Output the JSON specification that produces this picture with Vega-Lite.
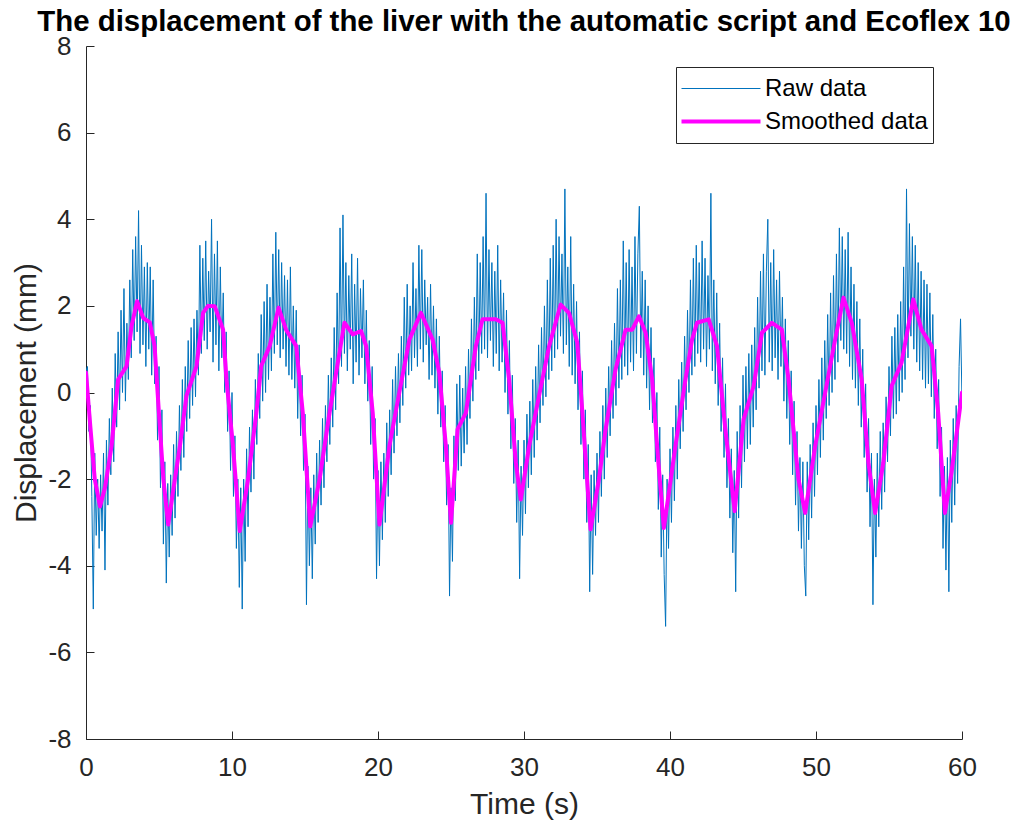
{
"$schema":"https://vega.github.io/schema/vega-lite/v6.json",
"autosize":{"type":"none"},
"width":876,"height":693,
"padding":{"left":86,"top":46,"right":65,"bottom":90},
"background":"white",
"title":{"text":"The displacement of the liver with the automatic script and Ecoflex 10","font":"Liberation Sans","fontSize":29.4,"fontWeight":"bold","color":"black","anchor":"middle","frame":"group","offset":-4},
"datasets":{
"raw":[
{"t":0.0,"v":0.5},{"t":0.1,"v":0.6},{"t":0.2,"v":-0.9},{"t":0.3,"v":-0.3},{"t":0.4,"v":-2.4},{"t":0.5,"v":-5.0},{"t":0.6,"v":-1.4},{"t":0.7,"v":-3.3},{"t":0.8,"v":-2.0},{"t":0.9,"v":-3.6},
{"t":1.0,"v":-1.9},{"t":1.1,"v":-3.2},{"t":1.2,"v":-1.4},{"t":1.3,"v":-4.1},{"t":1.4,"v":-1.1},{"t":1.5,"v":-2.6},{"t":1.6,"v":-0.6},{"t":1.7,"v":-1.9},{"t":1.8,"v":0.1},{"t":1.9,"v":-1.6},
{"t":2.0,"v":0.9},{"t":2.1,"v":-0.8},{"t":2.2,"v":1.4},{"t":2.3,"v":-0.4},{"t":2.4,"v":1.9},{"t":2.5,"v":0.0},{"t":2.6,"v":2.4},{"t":2.7,"v":-0.2},{"t":2.8,"v":1.6},{"t":2.9,"v":0.3},
{"t":3.0,"v":2.6},{"t":3.1,"v":0.8},{"t":3.2,"v":3.3},{"t":3.3,"v":1.2},{"t":3.4,"v":3.6},{"t":3.5,"v":1.4},{"t":3.6,"v":4.2},{"t":3.7,"v":0.9},{"t":3.8,"v":3.4},{"t":3.9,"v":1.1},
{"t":4.0,"v":2.9},{"t":4.1,"v":0.6},{"t":4.2,"v":3.0},{"t":4.3,"v":1.0},{"t":4.4,"v":2.9},{"t":4.5,"v":0.4},{"t":4.6,"v":2.6},{"t":4.7,"v":0.2},{"t":4.8,"v":1.3},{"t":4.9,"v":-1.1},
{"t":5.0,"v":0.6},{"t":5.1,"v":-2.2},{"t":5.2,"v":-0.4},{"t":5.3,"v":-3.5},{"t":5.4,"v":-1.6},{"t":5.5,"v":-4.4},{"t":5.6,"v":-2.1},{"t":5.7,"v":-3.8},{"t":5.8,"v":-1.9},{"t":5.9,"v":-3.3},
{"t":6.0,"v":-1.2},{"t":6.1,"v":-2.9},{"t":6.2,"v":-0.9},{"t":6.3,"v":-2.4},{"t":6.4,"v":-0.3},{"t":6.5,"v":-1.8},{"t":6.6,"v":0.3},{"t":6.7,"v":-1.5},{"t":6.8,"v":0.6},{"t":6.9,"v":-0.9},
{"t":7.0,"v":1.2},{"t":7.1,"v":-0.6},{"t":7.2,"v":1.5},{"t":7.3,"v":-0.3},{"t":7.4,"v":1.7},{"t":7.5,"v":-0.1},{"t":7.6,"v":1.9},{"t":7.7,"v":0.4},{"t":7.8,"v":3.4},{"t":7.9,"v":0.9},
{"t":8.0,"v":3.1},{"t":8.1,"v":1.2},{"t":8.2,"v":3.5},{"t":8.3,"v":1.0},{"t":8.4,"v":2.8},{"t":8.5,"v":1.4},{"t":8.6,"v":4.0},{"t":8.7,"v":0.7},{"t":8.8,"v":3.2},{"t":8.9,"v":1.1},
{"t":9.0,"v":3.5},{"t":9.1,"v":0.5},{"t":9.2,"v":2.9},{"t":9.3,"v":0.8},{"t":9.4,"v":2.3},{"t":9.5,"v":0.0},{"t":9.6,"v":1.4},{"t":9.7,"v":-0.9},{"t":9.8,"v":0.5},{"t":9.9,"v":-1.8},
{"t":10.0,"v":0.0},{"t":10.1,"v":-2.4},{"t":10.2,"v":-1.0},{"t":10.3,"v":-3.6},{"t":10.4,"v":-2.0},{"t":10.5,"v":-4.5},{"t":10.6,"v":-2.2},{"t":10.7,"v":-5.0},{"t":10.8,"v":-2.0},{"t":10.9,"v":-3.9},
{"t":11.0,"v":-1.3},{"t":11.1,"v":-3.1},{"t":11.2,"v":-0.8},{"t":11.3,"v":-2.3},{"t":11.4,"v":-0.4},{"t":11.5,"v":-2.0},{"t":11.6,"v":0.3},{"t":11.7,"v":-1.2},{"t":11.8,"v":0.9},{"t":11.9,"v":-0.6},
{"t":12.0,"v":1.8},{"t":12.1,"v":-0.2},{"t":12.2,"v":2.1},{"t":12.3,"v":0.0},{"t":12.4,"v":2.5},{"t":12.5,"v":0.3},{"t":12.6,"v":2.2},{"t":12.7,"v":0.5},{"t":12.8,"v":3.2},{"t":12.9,"v":0.9},
{"t":13.0,"v":3.7},{"t":13.1,"v":1.1},{"t":13.2,"v":3.3},{"t":13.3,"v":0.8},{"t":13.4,"v":3.0},{"t":13.5,"v":1.0},{"t":13.6,"v":2.7},{"t":13.7,"v":0.6},{"t":13.8,"v":2.6},{"t":13.9,"v":0.4},
{"t":14.0,"v":2.9},{"t":14.1,"v":0.3},{"t":14.2,"v":2.0},{"t":14.3,"v":0.1},{"t":14.4,"v":1.9},{"t":14.5,"v":-0.6},{"t":14.6,"v":1.1},{"t":14.7,"v":-1.0},{"t":14.8,"v":0.4},{"t":14.9,"v":-1.8},
{"t":15.0,"v":-0.5},{"t":15.1,"v":-4.9},{"t":15.2,"v":-1.7},{"t":15.3,"v":-4.0},{"t":15.4,"v":-2.2},{"t":15.5,"v":-4.3},{"t":15.6,"v":-1.9},{"t":15.7,"v":-3.5},{"t":15.8,"v":-1.4},{"t":15.9,"v":-3.0},
{"t":16.0,"v":-1.1},{"t":16.1,"v":-2.6},{"t":16.2,"v":-0.6},{"t":16.3,"v":-2.2},{"t":16.4,"v":-0.3},{"t":16.5,"v":-1.6},{"t":16.6,"v":0.4},{"t":16.7,"v":-1.2},{"t":16.8,"v":0.8},{"t":16.9,"v":-0.8},
{"t":17.0,"v":1.5},{"t":17.1,"v":-0.4},{"t":17.2,"v":2.3},{"t":17.3,"v":0.2},{"t":17.4,"v":3.8},{"t":17.5,"v":0.6},{"t":17.6,"v":4.1},{"t":17.7,"v":0.9},{"t":17.8,"v":3.0},{"t":17.9,"v":0.5},
{"t":18.0,"v":2.7},{"t":18.1,"v":1.0},{"t":18.2,"v":3.2},{"t":18.3,"v":0.2},{"t":18.4,"v":2.5},{"t":18.5,"v":0.7},{"t":18.6,"v":3.1},{"t":18.7,"v":0.4},{"t":18.8,"v":2.4},{"t":18.9,"v":0.8},
{"t":19.0,"v":2.6},{"t":19.1,"v":0.2},{"t":19.2,"v":1.9},{"t":19.3,"v":-0.2},{"t":19.4,"v":1.2},{"t":19.5,"v":-1.2},{"t":19.6,"v":0.6},{"t":19.7,"v":-2.0},{"t":19.8,"v":-0.6},{"t":19.9,"v":-4.3},
{"t":20.0,"v":-1.8},{"t":20.1,"v":-4.0},{"t":20.2,"v":-1.6},{"t":20.3,"v":-3.4},{"t":20.4,"v":-1.4},{"t":20.5,"v":-3.0},{"t":20.6,"v":-0.7},{"t":20.7,"v":-2.4},{"t":20.8,"v":-0.4},{"t":20.9,"v":-1.9},
{"t":21.0,"v":0.3},{"t":21.1,"v":-1.4},{"t":21.2,"v":0.6},{"t":21.3,"v":-1.0},{"t":21.4,"v":0.9},{"t":21.5,"v":-0.7},{"t":21.6,"v":1.3},{"t":21.7,"v":-0.3},{"t":21.8,"v":2.2},{"t":21.9,"v":0.1},
{"t":22.0,"v":2.5},{"t":22.1,"v":0.4},{"t":22.2,"v":2.0},{"t":22.3,"v":0.5},{"t":22.4,"v":3.0},{"t":22.5,"v":0.8},{"t":22.6,"v":2.4},{"t":22.7,"v":0.6},{"t":22.8,"v":3.4},{"t":22.9,"v":1.0},
{"t":23.0,"v":3.3},{"t":23.1,"v":0.7},{"t":23.2,"v":2.6},{"t":23.3,"v":1.1},{"t":23.4,"v":2.2},{"t":23.5,"v":0.3},{"t":23.6,"v":2.5},{"t":23.7,"v":0.4},{"t":23.8,"v":2.0},{"t":23.9,"v":0.1},
{"t":24.0,"v":1.7},{"t":24.1,"v":-0.5},{"t":24.2,"v":1.3},{"t":24.3,"v":-0.8},{"t":24.4,"v":0.5},{"t":24.5,"v":-1.6},{"t":24.6,"v":-0.3},{"t":24.7,"v":-2.6},{"t":24.8,"v":-1.2},{"t":24.9,"v":-4.7},
{"t":25.0,"v":-2.2},{"t":25.1,"v":-3.9},{"t":25.2,"v":-1.0},{"t":25.3,"v":-2.5},{"t":25.4,"v":0.2},{"t":25.5,"v":-1.8},{"t":25.6,"v":0.4},{"t":25.7,"v":-1.7},{"t":25.8,"v":0.1},{"t":25.9,"v":-1.4},
{"t":26.0,"v":0.6},{"t":26.1,"v":-1.2},{"t":26.2,"v":1.0},{"t":26.3,"v":-0.6},{"t":26.4,"v":1.7},{"t":26.5,"v":-0.2},{"t":26.6,"v":2.2},{"t":26.7,"v":0.3},{"t":26.8,"v":3.2},{"t":26.9,"v":0.5},
{"t":27.0,"v":3.0},{"t":27.1,"v":0.9},{"t":27.2,"v":3.6},{"t":27.3,"v":1.0},{"t":27.4,"v":4.6},{"t":27.5,"v":0.8},{"t":27.6,"v":3.3},{"t":27.7,"v":1.2},{"t":27.8,"v":3.0},{"t":27.9,"v":0.6},
{"t":28.0,"v":2.8},{"t":28.1,"v":0.9},{"t":28.2,"v":3.4},{"t":28.3,"v":0.5},{"t":28.4,"v":2.6},{"t":28.5,"v":0.7},{"t":28.6,"v":2.3},{"t":28.7,"v":0.0},{"t":28.8,"v":1.9},{"t":28.9,"v":-0.5},
{"t":29.0,"v":1.2},{"t":29.1,"v":-1.3},{"t":29.2,"v":0.4},{"t":29.3,"v":-2.1},{"t":29.4,"v":-0.6},{"t":29.5,"v":-3.0},{"t":29.6,"v":-1.1},{"t":29.7,"v":-4.3},{"t":29.8,"v":-1.7},{"t":29.9,"v":-3.3},
{"t":30.0,"v":-1.1},{"t":30.1,"v":-2.8},{"t":30.2,"v":-0.5},{"t":30.3,"v":-2.2},{"t":30.4,"v":-0.2},{"t":30.5,"v":-1.9},{"t":30.6,"v":0.3},{"t":30.7,"v":-1.5},{"t":30.8,"v":0.6},{"t":30.9,"v":-1.1},
{"t":31.0,"v":1.1},{"t":31.1,"v":-0.7},{"t":31.2,"v":1.5},{"t":31.3,"v":-0.3},{"t":31.4,"v":2.0},{"t":31.5,"v":-0.1},{"t":31.6,"v":2.6},{"t":31.7,"v":0.3},{"t":31.8,"v":3.1},{"t":31.9,"v":0.5},
{"t":32.0,"v":3.4},{"t":32.1,"v":0.8},{"t":32.2,"v":4.0},{"t":32.3,"v":1.0},{"t":32.4,"v":3.6},{"t":32.5,"v":1.3},{"t":32.6,"v":3.2},{"t":32.7,"v":0.9},{"t":32.8,"v":4.7},{"t":32.9,"v":1.1},
{"t":33.0,"v":2.9},{"t":33.1,"v":0.6},{"t":33.2,"v":3.6},{"t":33.3,"v":0.4},{"t":33.4,"v":2.5},{"t":33.5,"v":0.2},{"t":33.6,"v":2.1},{"t":33.7,"v":-0.4},{"t":33.8,"v":1.4},{"t":33.9,"v":-1.2},
{"t":34.0,"v":0.5},{"t":34.1,"v":-2.0},{"t":34.2,"v":-0.4},{"t":34.3,"v":-3.0},{"t":34.4,"v":-1.2},{"t":34.5,"v":-4.6},{"t":34.6,"v":-1.9},{"t":34.7,"v":-4.2},{"t":34.8,"v":-1.8},{"t":34.9,"v":-3.3},
{"t":35.0,"v":-1.4},{"t":35.1,"v":-3.0},{"t":35.2,"v":-0.9},{"t":35.3,"v":-2.4},{"t":35.4,"v":-0.3},{"t":35.5,"v":-2.0},{"t":35.6,"v":0.1},{"t":35.7,"v":-1.5},{"t":35.8,"v":0.6},{"t":35.9,"v":-1.0},
{"t":36.0,"v":1.2},{"t":36.1,"v":-0.6},{"t":36.2,"v":1.6},{"t":36.3,"v":-0.3},{"t":36.4,"v":2.4},{"t":36.5,"v":0.1},{"t":36.6,"v":2.6},{"t":36.7,"v":0.3},{"t":36.8,"v":3.5},{"t":36.9,"v":0.6},
{"t":37.0,"v":3.0},{"t":37.1,"v":0.4},{"t":37.2,"v":3.3},{"t":37.3,"v":0.7},{"t":37.4,"v":2.9},{"t":37.5,"v":0.5},{"t":37.6,"v":3.6},{"t":37.7,"v":0.9},{"t":37.8,"v":3.2},{"t":37.9,"v":4.3},
{"t":38.0,"v":0.8},{"t":38.1,"v":2.8},{"t":38.2,"v":0.4},{"t":38.3,"v":2.6},{"t":38.4,"v":0.1},{"t":38.5,"v":2.0},{"t":38.6,"v":-0.4},{"t":38.7,"v":1.5},{"t":38.8,"v":-0.7},{"t":38.9,"v":0.8},
{"t":39.0,"v":-1.6},{"t":39.1,"v":0.0},{"t":39.2,"v":-2.7},{"t":39.3,"v":-0.8},{"t":39.4,"v":-3.8},{"t":39.5,"v":-1.9},{"t":39.6,"v":-4.2},{"t":39.7,"v":-5.4},{"t":39.8,"v":-2.0},{"t":39.9,"v":-3.6},
{"t":40.0,"v":-1.3},{"t":40.1,"v":-3.0},{"t":40.2,"v":-0.8},{"t":40.3,"v":-2.5},{"t":40.4,"v":-0.3},{"t":40.5,"v":-2.0},{"t":40.6,"v":0.3},{"t":40.7,"v":-1.3},{"t":40.8,"v":0.7},{"t":40.9,"v":-0.9},
{"t":41.0,"v":1.3},{"t":41.1,"v":-0.4},{"t":41.2,"v":1.9},{"t":41.3,"v":0.0},{"t":41.4,"v":2.6},{"t":41.5,"v":0.4},{"t":41.6,"v":3.1},{"t":41.7,"v":0.6},{"t":41.8,"v":3.4},{"t":41.9,"v":0.9},
{"t":42.0,"v":3.0},{"t":42.1,"v":0.7},{"t":42.2,"v":3.5},{"t":42.3,"v":1.0},{"t":42.4,"v":3.1},{"t":42.5,"v":0.6},{"t":42.6,"v":2.7},{"t":42.7,"v":1.0},{"t":42.8,"v":4.6},{"t":42.9,"v":0.5},
{"t":43.0,"v":2.6},{"t":43.1,"v":0.2},{"t":43.2,"v":2.3},{"t":43.3,"v":-0.3},{"t":43.4,"v":1.6},{"t":43.5,"v":-0.9},{"t":43.6,"v":0.8},{"t":43.7,"v":-1.5},{"t":43.8,"v":0.2},{"t":43.9,"v":-2.2},
{"t":44.0,"v":-0.6},{"t":44.1,"v":-2.9},{"t":44.2,"v":-1.3},{"t":44.3,"v":-3.7},{"t":44.4,"v":-1.8},{"t":44.5,"v":-4.6},{"t":44.6,"v":-0.9},{"t":44.7,"v":-2.9},{"t":44.8,"v":-0.3},{"t":44.9,"v":-2.2},
{"t":45.0,"v":0.4},{"t":45.1,"v":-1.6},{"t":45.2,"v":0.6},{"t":45.3,"v":-1.3},{"t":45.4,"v":0.9},{"t":45.5,"v":-1.2},{"t":45.6,"v":1.1},{"t":45.7,"v":-0.8},{"t":45.8,"v":1.5},{"t":45.9,"v":-0.4},
{"t":46.0,"v":2.2},{"t":46.1,"v":0.1},{"t":46.2,"v":2.8},{"t":46.3,"v":0.5},{"t":46.4,"v":3.2},{"t":46.5,"v":0.4},{"t":46.6,"v":2.8},{"t":46.7,"v":4.0},{"t":46.8,"v":0.7},{"t":46.9,"v":3.0},
{"t":47.0,"v":0.5},{"t":47.1,"v":3.3},{"t":47.2,"v":0.8},{"t":47.3,"v":2.6},{"t":47.4,"v":0.3},{"t":47.5,"v":2.8},{"t":47.6,"v":0.6},{"t":47.7,"v":2.2},{"t":47.8,"v":-0.2},{"t":47.9,"v":1.7},
{"t":48.0,"v":-0.6},{"t":48.1,"v":1.2},{"t":48.2,"v":-1.2},{"t":48.3,"v":0.5},{"t":48.4,"v":-1.9},{"t":48.5,"v":-0.2},{"t":48.6,"v":-2.6},{"t":48.7,"v":-0.9},{"t":48.8,"v":-3.2},{"t":48.9,"v":-1.5},
{"t":49.0,"v":-3.6},{"t":49.1,"v":-1.6},{"t":49.2,"v":-4.0},{"t":49.3,"v":-4.7},{"t":49.4,"v":-1.6},{"t":49.5,"v":-3.4},{"t":49.6,"v":-1.2},{"t":49.7,"v":-2.9},{"t":49.8,"v":-0.7},{"t":49.9,"v":-2.4},
{"t":50.0,"v":-0.3},{"t":50.1,"v":-1.9},{"t":50.2,"v":0.3},{"t":50.3,"v":-1.5},{"t":50.4,"v":0.8},{"t":50.5,"v":-1.1},{"t":50.6,"v":1.2},{"t":50.7,"v":-0.6},{"t":50.8,"v":1.8},{"t":50.9,"v":-0.3},
{"t":51.0,"v":2.3},{"t":51.1,"v":0.0},{"t":51.2,"v":2.7},{"t":51.3,"v":0.3},{"t":51.4,"v":3.2},{"t":51.5,"v":0.7},{"t":51.6,"v":3.8},{"t":51.7,"v":1.2},{"t":51.8,"v":3.6},{"t":51.9,"v":1.0},
{"t":52.0,"v":3.3},{"t":52.1,"v":0.9},{"t":52.2,"v":3.7},{"t":52.3,"v":0.6},{"t":52.4,"v":2.9},{"t":52.5,"v":0.3},{"t":52.6,"v":2.5},{"t":52.7,"v":0.1},{"t":52.8,"v":2.1},{"t":52.9,"v":-0.3},
{"t":53.0,"v":1.7},{"t":53.1,"v":-0.8},{"t":53.2,"v":1.0},{"t":53.3,"v":-1.5},{"t":53.4,"v":0.2},{"t":53.5,"v":-2.3},{"t":53.6,"v":-0.6},{"t":53.7,"v":-3.1},{"t":53.8,"v":-1.4},{"t":53.9,"v":-4.9},
{"t":54.0,"v":-2.0},{"t":54.1,"v":-3.8},{"t":54.2,"v":-1.4},{"t":54.3,"v":-3.1},{"t":54.4,"v":-0.9},{"t":54.5,"v":-2.7},{"t":54.6,"v":-0.7},{"t":54.7,"v":-2.3},{"t":54.8,"v":-0.1},{"t":54.9,"v":-1.6},
{"t":55.0,"v":0.6},{"t":55.1,"v":-1.0},{"t":55.2,"v":1.3},{"t":55.3,"v":-0.6},{"t":55.4,"v":1.5},{"t":55.5,"v":-0.5},{"t":55.6,"v":1.8},{"t":55.7,"v":-0.2},{"t":55.8,"v":2.1},{"t":55.9,"v":0.0},
{"t":56.0,"v":2.9},{"t":56.1,"v":0.3},{"t":56.2,"v":4.7},{"t":56.3,"v":0.8},{"t":56.4,"v":3.9},{"t":56.5,"v":1.3},{"t":56.6,"v":3.6},{"t":56.7,"v":1.0},{"t":56.8,"v":3.4},{"t":56.9,"v":0.7},
{"t":57.0,"v":3.0},{"t":57.1,"v":0.5},{"t":57.2,"v":2.8},{"t":57.3,"v":0.3},{"t":57.4,"v":2.6},{"t":57.5,"v":0.1},{"t":57.6,"v":2.5},{"t":57.7,"v":0.2},{"t":57.8,"v":2.3},{"t":57.9,"v":-0.1},
{"t":58.0,"v":1.8},{"t":58.1,"v":-0.6},{"t":58.2,"v":1.0},{"t":58.3,"v":-1.3},{"t":58.4,"v":0.3},{"t":58.5,"v":-2.4},{"t":58.6,"v":-0.8},{"t":58.7,"v":-3.6},{"t":58.8,"v":-1.7},{"t":58.9,"v":-4.1},
{"t":59.0,"v":-1.5},{"t":59.1,"v":-4.6},{"t":59.2,"v":-1.1},{"t":59.3,"v":-3.0},{"t":59.4,"v":-0.6},{"t":59.5,"v":-2.6},{"t":59.6,"v":-0.3},{"t":59.7,"v":-2.1},{"t":59.8,"v":0.6},{"t":59.9,"v":1.7},
{"t":60.0,"v":-0.2}
],
"smooth":[
{"t":0,"v":0.46},{"t":0.3,"v":-0.8},{"t":0.6,"v":-2.0},{"t":0.96,"v":-2.63},{"t":1.3,"v":-2.2},{"t":1.75,"v":-1.24},{"t":2.2,"v":0.3},{"t":2.78,"v":0.61},{"t":3.12,"v":1.53},{"t":3.5,"v":2.11},{"t":3.92,"v":1.72},{"t":4.37,"v":1.62},{"t":4.7,"v":1.07},{"t":5.0,"v":-0.5},{"t":5.3,"v":-2.0},{"t":5.63,"v":-3.05},
{"t":6.0,"v":-2.2},{"t":6.43,"v":-1.24},{"t":6.88,"v":-0.08},{"t":7.57,"v":0.61},{"t":8.02,"v":1.84},{"t":8.36,"v":2.0},{"t":8.82,"v":1.99},{"t":9.39,"v":1.45},{"t":9.62,"v":0.3},{"t":10.07,"v":-1.24},{"t":10.53,"v":-3.2},
{"t":11.1,"v":-2.0},{"t":11.67,"v":-0.47},{"t":12.0,"v":0.61},{"t":12.58,"v":1.07},{"t":13.19,"v":1.96},{"t":13.7,"v":1.45},{"t":14.4,"v":1.07},{"t":14.85,"v":-0.47},{"t":15.36,"v":-3.09},
{"t":16.0,"v":-2.0},{"t":16.68,"v":-0.47},{"t":17.13,"v":0.45},{"t":17.7,"v":1.61},{"t":18.27,"v":1.34},{"t":18.84,"v":1.42},{"t":19.19,"v":1.07},{"t":19.64,"v":-0.47},{"t":20.1,"v":-3.05},
{"t":20.78,"v":-1.24},{"t":21.46,"v":0.0},{"t":22.15,"v":1.22},{"t":22.94,"v":1.84},{"t":23.74,"v":1.22},{"t":24.2,"v":0.45},{"t":24.65,"v":-1.24},{"t":25.0,"v":-3.01},
{"t":25.45,"v":-0.85},{"t":26.02,"v":-0.47},{"t":26.7,"v":1.07},{"t":27.16,"v":1.69},{"t":28.07,"v":1.69},{"t":28.53,"v":1.61},{"t":28.98,"v":0.3},{"t":29.44,"v":-1.62},{"t":29.78,"v":-2.47},
{"t":30.35,"v":-1.24},{"t":31.03,"v":-0.08},{"t":31.72,"v":1.07},{"t":32.51,"v":2.03},{"t":33.08,"v":1.84},{"t":33.65,"v":1.15},{"t":34.0,"v":-0.47},{"t":34.56,"v":-3.16},
{"t":35.13,"v":-2.0},{"t":35.59,"v":-0.85},{"t":36.27,"v":0.53},{"t":36.96,"v":1.45},{"t":37.41,"v":1.45},{"t":37.87,"v":1.76},{"t":38.33,"v":1.38},{"t":38.78,"v":0.3},{"t":39.2,"v":-1.6},{"t":39.58,"v":-3.13},
{"t":40.37,"v":-1.24},{"t":41.06,"v":0.3},{"t":41.51,"v":1.22},{"t":41.85,"v":1.61},{"t":42.65,"v":1.69},{"t":43.22,"v":1.07},{"t":43.79,"v":-0.85},{"t":44.43,"v":-2.74},
{"t":45.04,"v":-0.62},{"t":45.73,"v":0.15},{"t":46.3,"v":1.38},{"t":46.98,"v":1.61},{"t":47.66,"v":1.45},{"t":48.12,"v":0.3},{"t":48.8,"v":-2.0},{"t":49.26,"v":-2.78},
{"t":49.94,"v":-1.24},{"t":50.63,"v":0.0},{"t":51.31,"v":1.22},{"t":51.88,"v":2.19},{"t":52.45,"v":1.61},{"t":53.13,"v":0.3},{"t":53.59,"v":-1.62},{"t":54.05,"v":-2.78},
{"t":54.61,"v":-1.62},{"t":55.18,"v":0.15},{"t":55.86,"v":0.69},{"t":56.66,"v":2.15},{"t":57.23,"v":1.45},{"t":57.92,"v":1.07},{"t":58.37,"v":-0.47},{"t":58.83,"v":-2.78},
{"t":59.28,"v":-1.85},{"t":60.0,"v":0.0}
]
},
"layer":[
{"data":{"name":"raw"},
 "mark":{"type":"line","strokeWidth":1,"clip":true},
 "encoding":{
  "x":{"field":"t","type":"quantitative","scale":{"domain":[0,60],"nice":false,"zero":false},"axis":{"values":[0,10,20,30,40,50,60],"title":"Time (s)","labelExpr":"'' + datum.value"}},
  "y":{"field":"v","type":"quantitative","scale":{"domain":[-8,8],"nice":false,"zero":false},"axis":{"values":[-8,-6,-4,-2,0,2,4,6,8],"title":"Displacement (mm)","labelExpr":"'' + datum.value"}},
  "color":{"datum":"Raw data","type":"nominal","scale":{"domain":["Raw data","Smoothed data"],"range":["#0072BD","#FF00FF"]},
   "legend":{"orient":"none","legendX":590,"legendY":21,"title":null,
     "encode":{"symbols":{"update":{"strokeWidth":{"signal":"(datum.value === 'Smoothed data' ? 4 : 1)"}}}}}}
 }},
{"data":{"name":"smooth"},
 "mark":{"type":"line","strokeWidth":4,"strokeJoin":"round","strokeCap":"round","clip":true},
 "encoding":{
  "x":{"field":"t","type":"quantitative"},
  "y":{"field":"v","type":"quantitative"},
  "color":{"datum":"Smoothed data","type":"nominal"}
 }}
],
"config":{
 "view":{"stroke":null},
 "axis":{"domainColor":"#262626","tickColor":"#262626","labelColor":"#262626","titleColor":"#262626","labelFont":"Liberation Sans","titleFont":"Liberation Sans","labelFontSize":26,"titleFontSize":30,"titleFontWeight":"normal","grid":false,"tickSize":-8,"domainWidth":1,"tickWidth":1,"labelPadding":23,"labelOverlap":false,"labelFlush":false},
 "axisX":{"titlePadding":9},
 "axisY":{"titlePadding":6},
 "legend":{"symbolType":"stroke","symbolSize":6241,"labelFont":"Liberation Sans","labelFontSize":24,"labelColor":"#000000","labelLimit":400,"strokeColor":"#262626","fillColor":"white","padding":5,"labelOffset":4,"rowPadding":0,"clipHeight":33,"symbolStrokeWidth":1}
}
}
